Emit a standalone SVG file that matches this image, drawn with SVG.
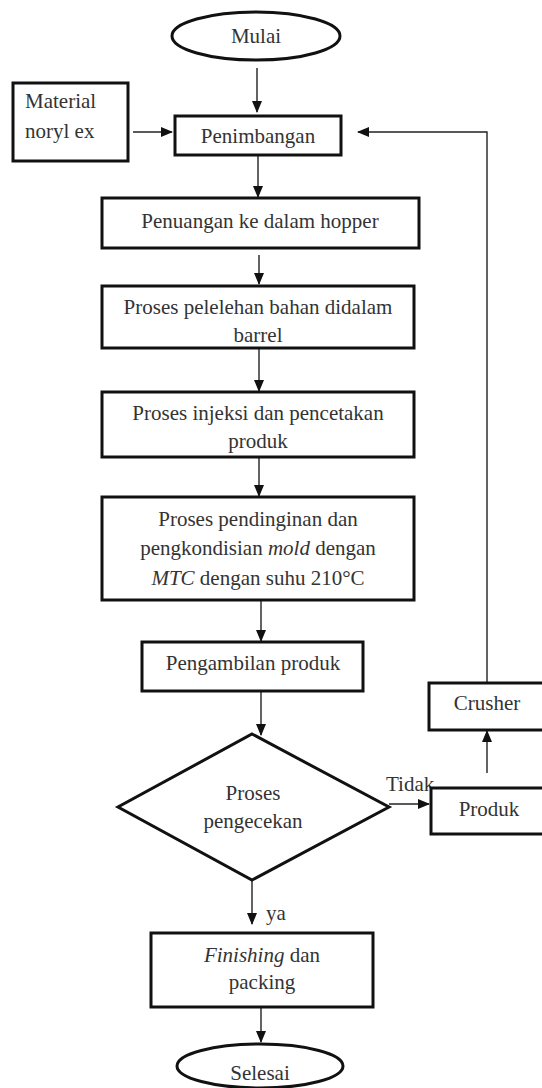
<svg xmlns="http://www.w3.org/2000/svg" width="542" height="1088" viewBox="0 0 542 1088" font-family="'Liberation Serif', 'Times New Roman', 'DejaVu Serif', serif">
<style>
.box{fill:#fff;stroke:#111;stroke-width:3}
.ln{fill:none;stroke:#222;stroke-width:1.4}
.t{font-family:'Liberation Serif','Times New Roman','DejaVu Serif',serif;font-size:21px;fill:#333}
.c{text-anchor:middle}
.i{font-style:italic}
</style>
<defs>
<marker id="ah" markerUnits="userSpaceOnUse" markerWidth="12" markerHeight="10" refX="11" refY="5" orient="auto">
<path d="M0,0 L12,5 L0,10 Z" fill="#111"/>
</marker>
</defs>
<rect width="542" height="1088" fill="#fff"/>
<g id="connectors">
<line class="ln" x1="257" y1="68" x2="257" y2="112" marker-end="url(#ah)"/>
<line class="ln" x1="133" y1="132" x2="172" y2="132" marker-end="url(#ah)"/>
<polyline class="ln" points="487,683 487,132 358,132" marker-end="url(#ah)"/>
<line class="ln" x1="258" y1="155" x2="258" y2="197" marker-end="url(#ah)"/>
<line class="ln" x1="259" y1="255" x2="259" y2="284" marker-end="url(#ah)"/>
<line class="ln" x1="259" y1="348" x2="259" y2="391" marker-end="url(#ah)"/>
<line class="ln" x1="259" y1="457" x2="259" y2="496" marker-end="url(#ah)"/>
<line class="ln" x1="261" y1="600" x2="261" y2="641" marker-end="url(#ah)"/>
<line class="ln" x1="261" y1="691" x2="261" y2="735" marker-end="url(#ah)"/>
<line class="ln" x1="389" y1="804" x2="429" y2="804" marker-end="url(#ah)"/>
<line class="ln" x1="487" y1="773" x2="487" y2="731" marker-end="url(#ah)"/>
<line class="ln" x1="252" y1="881" x2="252" y2="924" marker-end="url(#ah)"/>
<line class="ln" x1="261" y1="1007" x2="261" y2="1042" marker-end="url(#ah)"/>
<text class="t" x="386" y="791">Tidak</text>
<text class="t" x="266" y="920">ya</text>
</g>
<g id="mulai">
<ellipse class="box" cx="256" cy="36" rx="84" ry="24"/>
<text class="t c" x="256" y="43">Mulai</text>
</g>
<g id="material">
<rect class="box" x="13" y="83" width="115" height="78"/>
<text class="t" x="25" y="108">Material</text>
<text class="t" x="25" y="138">noryl ex</text>
</g>
<g id="penimbangan">
<rect class="box" x="175" y="116" width="166" height="39"/>
<text class="t c" x="258" y="143">Penimbangan</text>
</g>
<g id="penuangan">
<rect class="box" x="102" y="198" width="317" height="50"/>
<text class="t c" x="260" y="228">Penuangan ke dalam hopper</text>
</g>
<g id="pelelehan">
<rect class="box" x="102" y="286" width="312" height="62"/>
<text class="t c" x="258" y="314">Proses pelelehan bahan didalam</text>
<text class="t c" x="258" y="342">barrel</text>
</g>
<g id="injeksi">
<rect class="box" x="102" y="392" width="312" height="65"/>
<text class="t c" x="258" y="420">Proses injeksi dan pencetakan</text>
<text class="t c" x="258" y="448">produk</text>
</g>
<g id="pendinginan">
<rect class="box" x="102" y="497" width="312" height="103"/>
<text class="t c" x="258" y="526">Proses pendinginan dan</text>
<text class="t c" x="258" y="555">pengkondisian <tspan class="i">mold</tspan> dengan</text>
<text class="t c" x="258" y="585"><tspan class="i">MTC</tspan> dengan suhu 210°C</text>
</g>
<g id="pengambilan">
<rect class="box" x="142" y="642" width="221" height="49"/>
<text class="t c" x="253" y="670">Pengambilan produk</text>
</g>
<g id="pengecekan">
<polygon class="box" points="252,734 389,807 252,880 118,807"/>
<text class="t c" x="253" y="800">Proses</text>
<text class="t c" x="253" y="828">pengecekan</text>
</g>
<g id="crusher">
<rect class="box" x="429" y="683" width="120" height="47"/>
<text class="t c" x="487" y="710">Crusher</text>
</g>
<g id="produk">
<rect class="box" x="431" y="788" width="118" height="46"/>
<text class="t c" x="489" y="816">Produk</text>
</g>
<g id="finishing">
<rect class="box" x="151" y="933" width="222" height="74"/>
<text class="t c" x="262" y="962"><tspan class="i">Finishing</tspan> dan</text>
<text class="t c" x="262" y="989">packing</text>
</g>
<g id="selesai">
<ellipse class="box" cx="260" cy="1066" rx="83" ry="22"/>
<text class="t c" x="260" y="1080">Selesai</text>
</g>
</svg>
